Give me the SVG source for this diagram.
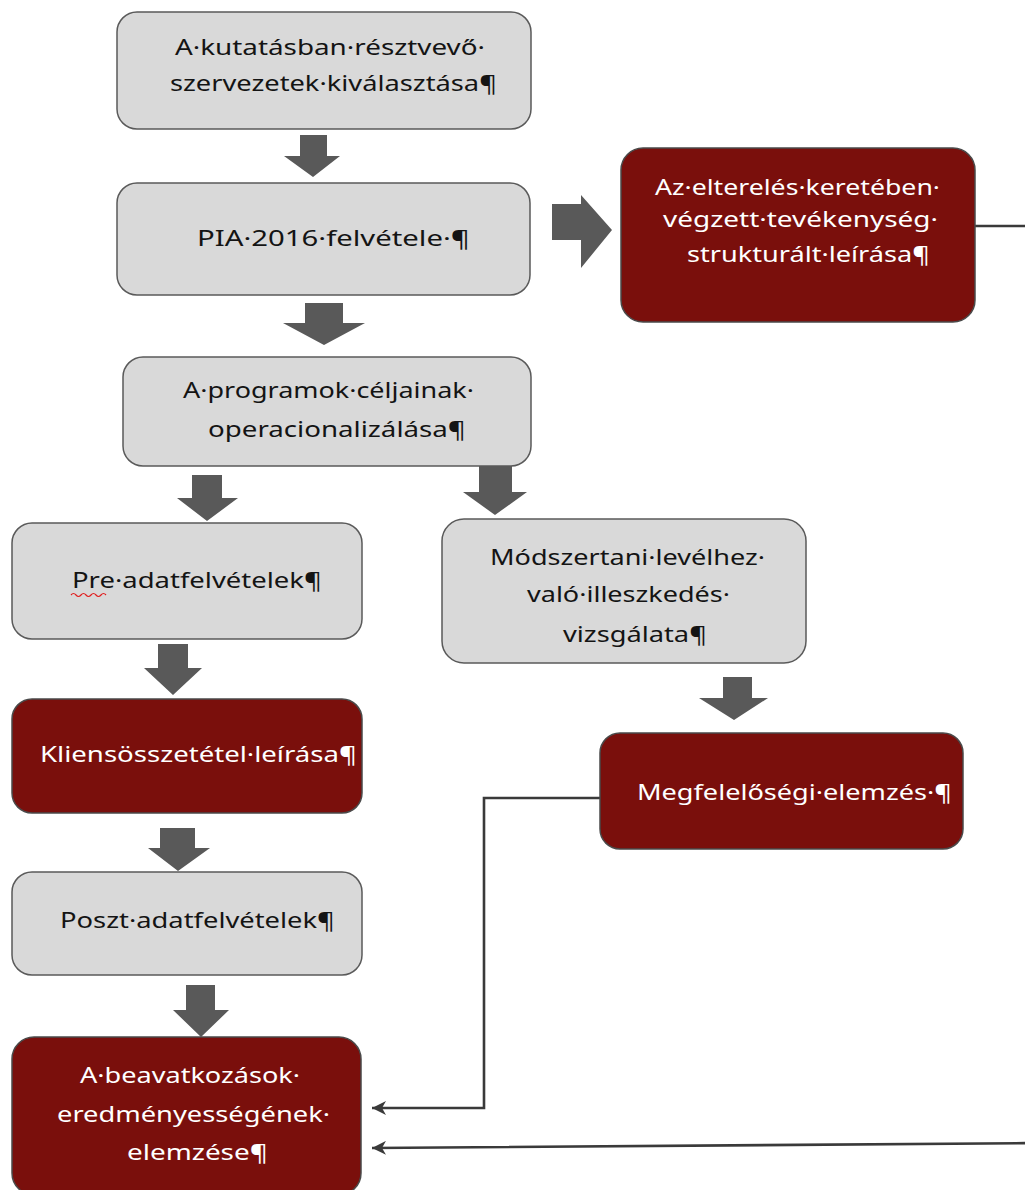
<svg xmlns="http://www.w3.org/2000/svg" width="1025" height="1190" viewBox="0 0 1025 1190">
<defs>
<style>
.g{fill:#d9d9d9;stroke:#5a5a5a;stroke-width:1.5}
.r{fill:#7a0f0c;stroke:#4a4a4a;stroke-width:1.5}
.t{font-family:"Noto Sans","Open Sans",sans-serif;font-size:22px;fill:#141414}
.w{font-family:"Noto Sans","Open Sans",sans-serif;font-size:22px;fill:#ffffff}
.ba{fill:#595959}
.ln{fill:none;stroke:#3a3a3a;stroke-width:2.6}
</style>
<marker id="ah2" markerWidth="16" markerHeight="14" refX="14" refY="7" orient="auto" markerUnits="userSpaceOnUse">
<path d="M0,0 L14,7 L0,14 L4,7 Z" fill="#3a3a3a"/>
</marker>
</defs>
<rect width="1025" height="1190" fill="#ffffff"/>

<g id="connectors">
<polygon class="ba" points="300,135 327,135 327,156 340,156 313,177 284,156 300,156"/>
<polygon class="ba" points="305,303 343,303 343,323 365,323 324,345 283,323 305,323"/>
<polygon class="ba" points="552,204 581,204 581,195 612,230 581,268 581,240 552,240"/>
<polygon class="ba" points="192,475 222,475 222,498 238,498 207,521 177,498 192,498"/>
<polygon class="ba" points="479,466 512,466 512,492 527,492 495,515 463,492 479,492"/>
<polygon class="ba" points="158,644 188,644 188,668 202,668 173,695 144,668 158,668"/>
<polygon class="ba" points="723,677 752,677 752,698 768,698 734,720 699,698 723,698"/>
<polygon class="ba" points="160,828 195,828 195,848 210,848 178,871 148,848 160,848"/>
<polygon class="ba" points="186,985 215,985 215,1010 229,1010 201,1037 173,1010 186,1010"/>
<path class="ln" d="M600,798 H484 V1108 H372" marker-end="url(#ah2)"/>
<path class="ln" d="M975,226 H1045 V1143 L372,1148" marker-end="url(#ah2)"/>
</g>

<g id="n1">
<rect class="g" x="117" y="12" width="414" height="117" rx="20"/>
<text class="t" x="175" y="55" textLength="310" lengthAdjust="spacingAndGlyphs">A·kutatásban·résztvevő·</text>
<text class="t" x="170" y="91" textLength="327" lengthAdjust="spacingAndGlyphs">szervezetek·kiválasztása¶</text>
</g>
<g id="n2">
<rect class="g" x="117" y="183" width="413" height="112" rx="20"/>
<text class="t" x="197" y="246" textLength="273" lengthAdjust="spacingAndGlyphs">PIA·2016·felvétele·¶</text>
</g>
<g id="n3">
<rect class="r" x="621" y="148" width="354" height="174" rx="22"/>
<text class="w" x="655" y="195" textLength="285" lengthAdjust="spacingAndGlyphs">Az·elterelés·keretében·</text>
<text class="w" x="663" y="227" textLength="275" lengthAdjust="spacingAndGlyphs">végzett·tevékenység·</text>
<text class="w" x="687" y="262" textLength="243" lengthAdjust="spacingAndGlyphs">strukturált·leírása¶</text>
</g>
<g id="n4">
<rect class="g" x="123" y="357" width="408" height="109" rx="20"/>
<text class="t" x="183" y="398" textLength="291" lengthAdjust="spacingAndGlyphs">A·programok·céljainak·</text>
<text class="t" x="208" y="437" textLength="258" lengthAdjust="spacingAndGlyphs">operacionalizálása¶</text>
</g>
<g id="n5">
<rect class="g" x="12" y="523" width="350" height="116" rx="20"/>
<text class="t" x="72" y="588" textLength="250" lengthAdjust="spacingAndGlyphs">Pre·adatfelvételek¶</text>
<path d="M71,595 q2.5,-3 5,0 t5,0 t5,0 t5,0 t5,0 t5,0 t5,0" fill="none" stroke="#e02020" stroke-width="1.2"/>
</g>
<g id="n6">
<rect class="g" x="442" y="519" width="364" height="144" rx="22"/>
<text class="t" x="490" y="565" textLength="275" lengthAdjust="spacingAndGlyphs">Módszertani·levélhez·</text>
<text class="t" x="527" y="602" textLength="203" lengthAdjust="spacingAndGlyphs">való·illeszkedés·</text>
<text class="t" x="563" y="642" textLength="144" lengthAdjust="spacingAndGlyphs">vizsgálata¶</text>
</g>
<g id="n7">
<rect class="r" x="12" y="699" width="350" height="114" rx="20"/>
<text class="w" x="40" y="762" textLength="317" lengthAdjust="spacingAndGlyphs">Kliensösszetétel·leírása¶</text>
</g>
<g id="n8">
<rect class="r" x="600" y="733" width="363" height="116" rx="20"/>
<text class="w" x="637" y="800" textLength="315" lengthAdjust="spacingAndGlyphs">Megfelelőségi·elemzés·¶</text>
</g>
<g id="n9">
<rect class="g" x="12" y="872" width="350" height="103" rx="20"/>
<text class="t" x="60" y="928" textLength="275" lengthAdjust="spacingAndGlyphs">Poszt·adatfelvételek¶</text>
</g>
<g id="n10">
<rect class="r" x="12" y="1037" width="349" height="158" rx="22"/>
<text class="w" x="80" y="1083" textLength="220" lengthAdjust="spacingAndGlyphs">A·beavatkozások·</text>
<text class="w" x="57" y="1122" textLength="273" lengthAdjust="spacingAndGlyphs">eredményességének·</text>
<text class="w" x="127" y="1160" textLength="141" lengthAdjust="spacingAndGlyphs">elemzése¶</text>
</g>
</svg>
